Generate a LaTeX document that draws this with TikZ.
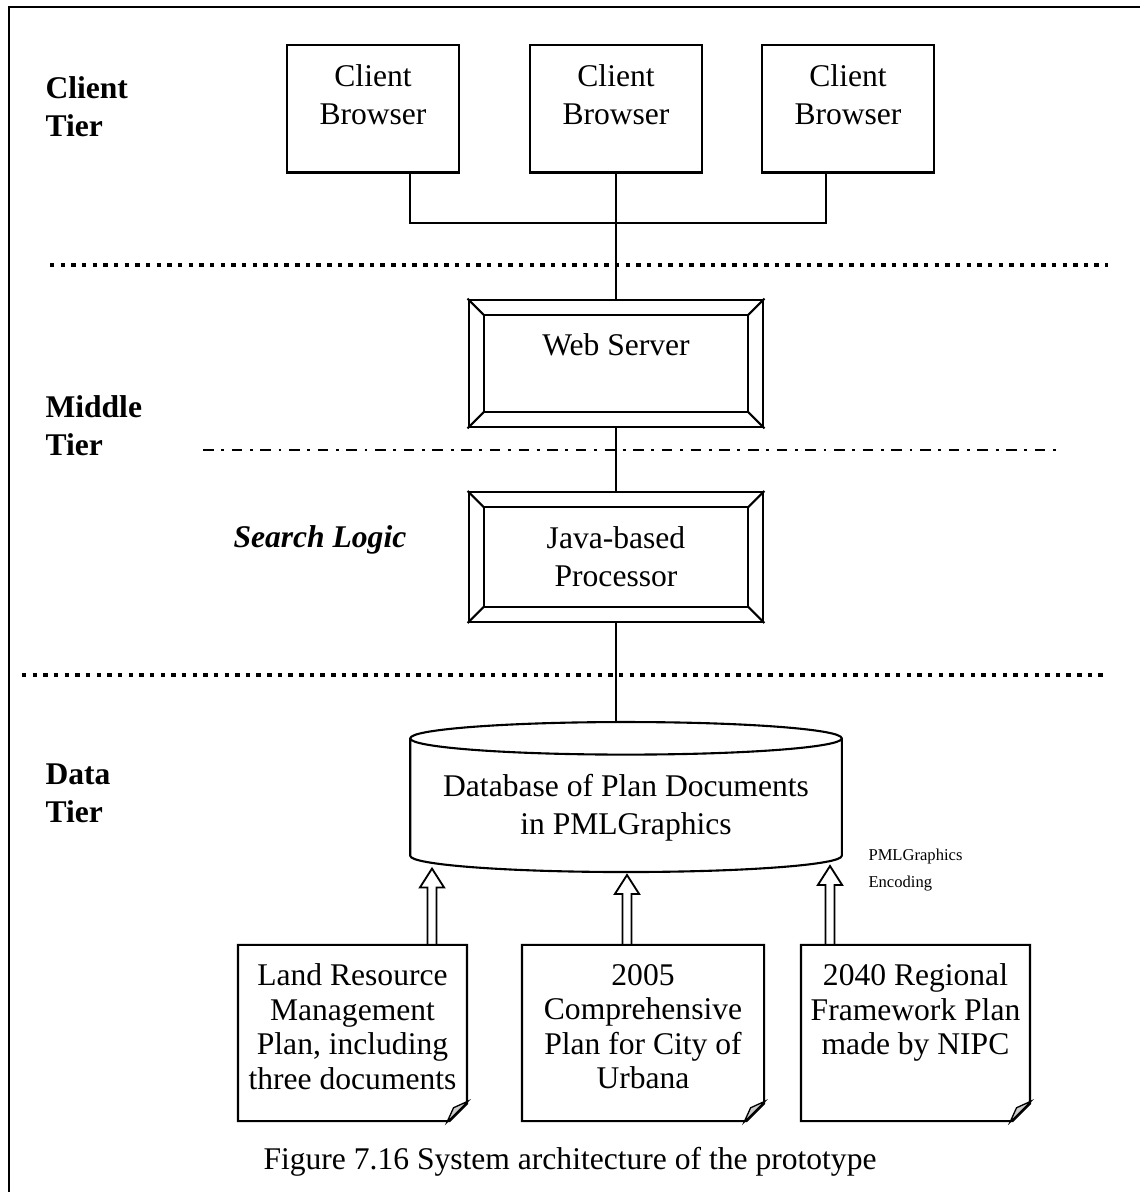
\documentclass[tikz,border=0pt]{standalone}
\usepackage{fontspec}
\setmainfont{Liberation Serif}
\usetikzlibrary{calc,positioning,shapes.geometric,shapes.misc}
\newcommand{\bodysize}{\fontsize{12}{14.4}\selectfont}
\tikzset{
  wire/.style={line width=0.7pt},
  dotsep/.style={line width=1.7pt, dash pattern=on 1.7pt off 2.35pt},
  dashdotsep/.style={line width=0.8pt, dash pattern=on 4pt off 2.9pt on 1.1pt off 2.9pt},
  tier/.style={font=\bodysize\bfseries, align=left, anchor=west, inner sep=0pt},
  lbl/.style={anchor=north, align=center, inner sep=0pt, yshift=-7.5pt},
  client/.style={draw, line width=0.8pt, minimum width=65.4pt, minimum height=48.3pt},
}
\tikzset{
  bevel/.style={draw, line width=0.8pt, minimum width=112pt, minimum height=48.5pt, align=center,
    append after command={
      ([shift={(6.2pt,-6.2pt)}]\tikzlastnode.north west) edge[line width=0.8pt, to path={rectangle (\tikztotarget)}] ([shift={(-6.2pt,6.2pt)}]\tikzlastnode.south east)
      (\tikzlastnode.north west) edge[line width=0.8pt] ([shift={(6.2pt,-6.2pt)}]\tikzlastnode.north west)
      (\tikzlastnode.north east) edge[line width=0.8pt] ([shift={(-6.2pt,-6.2pt)}]\tikzlastnode.north east)
      (\tikzlastnode.south west) edge[line width=0.8pt] ([shift={(6.2pt,6.2pt)}]\tikzlastnode.south west)
      (\tikzlastnode.south east) edge[line width=0.8pt] ([shift={(-6.2pt,6.2pt)}]\tikzlastnode.south east)
    }},
  docnote/.style={chamfered rectangle, chamfered rectangle corners=south east,
    chamfered rectangle xsep=8pt, chamfered rectangle ysep=8pt,
    draw, line width=0.8pt, minimum height=67pt,
    append after command={
      ($(\tikzlastnode.south -| \tikzlastnode.east)+(-8pt,0)$) edge[fill=black!20, line width=0.5pt,
        to path={-- ++(2.5pt,5.5pt) -- (\tikztotarget) -- cycle}] ($(\tikzlastnode.south -| \tikzlastnode.east)+(0,8pt)$)
    }},
}
\newcommand{\hollowarrow}[2]{%
  \draw[wire] let \p1=(#1), \p2=(#2) in
    (\x1-1.7pt,\y1) -- (\x1-1.7pt,\y2-7.2pt) -- (\x1-4.6pt,\y2-7.2pt) -- (\x1,\y2)
    -- (\x1+4.6pt,\y2-7.2pt) -- (\x1+1.7pt,\y2-7.2pt) -- (\x1+1.7pt,\y1);}

\begin{document}
\begin{tikzpicture}[x=0.38pt, y=-0.38pt, font=\bodysize]
  \useasboundingbox (0,0) rectangle (1139,1192);
  % frame
  \draw[line width=1.1pt] (9,1210) -- (9,7) -- (1150,7);

  % tiers
  \node[tier] (tclient) at (45,107) {Client\\Tier};
  \node[tier] (tmiddle) at (45,426) {Middle\\Tier};
  \node[tier] (tdata) at (45,793) {Data\\Tier};
  \node[tier, font=\bodysize\bfseries\itshape] (tlogic) at (233,540) {Search Logic};

  % separators
  \draw[dotsep] (50,265) -- (1108,265);
  \draw[dashdotsep] (203,450) -- (1058,450);
  \draw[dotsep] (22,675) -- (1108,675);

  % client tier
  \node[client, label={[lbl]north:Client\\Browser}] (c1) at (373,109) {};
  \node[client, label={[lbl]north:Client\\Browser}] (c2) at (616,109) {};
  \node[client, label={[lbl]north:Client\\Browser}] (c3) at (848,109) {};
  \coordinate (bus) at (616,223);

  % middle tier
  \node[bevel, label={[lbl, yshift=-5.5pt]north:Web Server}] (web) at (616,363.5) {};
  \node[bevel, minimum height=49.4pt] (proc) at (616,557) {Java-based\\Processor};

  % data tier
  \node[cylinder, shape border rotate=90, draw, line width=0.8pt, aspect=0.085,
        minimum width=164pt, minimum height=57pt, align=center] (db) at (626,808)
        {Database of Plan Documents\\in PMLGraphics};
  \node[docnote, minimum width=87pt, label={[lbl, font=\fontsize{12}{13.1}\selectfont]north:Land Resource\\Management\\Plan, including\\three documents}] (d1) at (352.5,1033) {};
  \node[docnote, minimum width=92pt, label={[lbl, font=\fontsize{12}{13.1}\selectfont]north:2005\\Comprehensive\\Plan for City of\\Urbana}] (d2) at (643,1033) {};
  \node[docnote, minimum width=87pt, label={[lbl, font=\fontsize{12}{13.1}\selectfont]north:2040 Regional\\Framework Plan\\made by NIPC}] (d3) at (915.5,1033) {};
  \node[tier, font=\fontsize{6.3}{10.6}\selectfont] (enc) at (868,870) {PMLGraphics\\Encoding};
  \coordinate (t1) at (432,868.6);
  \coordinate (t2) at (627,875);
  \coordinate (t3) at (830,866);

  % connectors
  \draw[wire] ([xshift=14pt]c1.south) |- (bus) -| ([xshift=-8.4pt]c3.south);
  \draw[wire] (c2.south) -- (web.north);
  \draw[wire] (web.south) -- (proc.north);
  \draw[wire] (proc.south) -- (proc.south |- db.north);
  \hollowarrow{d1.north -| t1}{t1}
  \hollowarrow{d2.north -| t2}{t2}
  \hollowarrow{d3.north -| t3}{t3}

  \node (cap) at (570,1162) {Figure 7.16 System architecture of the prototype};
\end{tikzpicture}
\end{document}
